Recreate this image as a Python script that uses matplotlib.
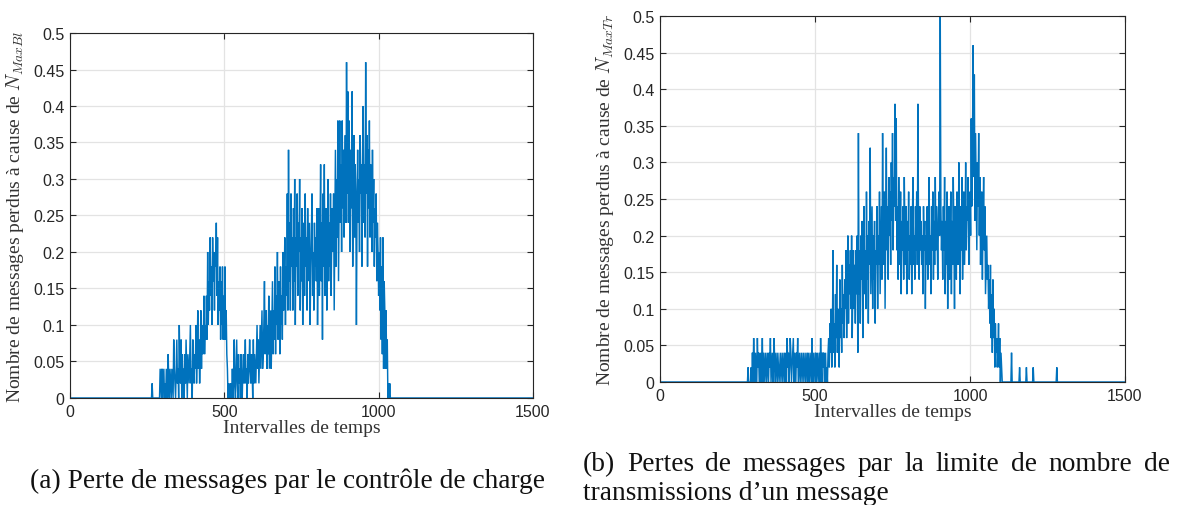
import numpy as np
import matplotlib
matplotlib.use("Agg")
import matplotlib.pyplot as plt

# ---------------- data (values in units of 0.02 = 1 message out of 50) ----------------
UNIT = 0.02
STEP = 2  # interval spacing between listed samples

# (a) pertes dues a N_MaxBl : samples starting at interval 260, every 2 intervals
a_start = 260
a_counts = [
    0,0,0,1,0,0,0,0,0,0,0,0,0,0,0,
    0,2,1,0,2,0,1,2,0,1,0,2,1,0,3,1,0,2,1,0,2,
    1,0,4,2,1,0,2,4,1,2,0,5,2,1,4,0,3,1,2,0,3,1,4,2,0,3,2,1,3,5,1,2,0,4,2,
    1,3,2,5,1,3,6,2,4,1,3,6,2,5,3,4,7,3,5,4,
    7,4,10,5,8,6,11,7,9,5,11,8,10,6,10,9,12,7,11,5,8,6,9,4,8,5,9,4,7,4,
    9,4,6,3,2,0,1,0,
    0,1,0,0,2,0,1,
    4,1,0,2,4,1,0,3,1,2,0,3,1,0,2,3,1,2,4,1,2,0,3,1,2,4,2,1,3,2,0,4,1,3,2,
    1,3,5,2,4,1,3,5,2,4,6,2,3,5,8,3,4,6,2,5,3,7,2,4,6,
    2,5,8,3,6,4,9,3,7,5,10,4,8,6,3,9,5,7,4,10,6,8,11,5,9,
    7,14,6,17,8,12,6,14,9,11,
    6,13,8,15,5,11,9,14,7,12,10,15,6,11,8,13,5,10,12,7,14,9,11,6,13,8,10,12,5,9,11,14,7,10,6,12,9,11,8,13,
    5,10,13,7,11,16,8,12,4,14,9,16,7,11,13,6,10,15,8,12,9,14,7,11,13,
    10,14,6,12,17,9,15,11,19,8,14,19,12,16,10,19,13,17,11,15,18,12,23,14,21,
    12,19,16,10,17,13,21,9,15,18,11,16,14,5,13,17,12,15,10,18,14,16,9,17,20,
    12,16,11,23,14,18,9,17,13,19,11,16,14,10,17,12,15,9,13,11,14,8,12,10,7,
    10,6,11,4,9,3,11,2,8,6,
    2,6,2,4,0,1,0,1,0,0,0,0,0,
]

# (b) pertes dues a N_MaxTr : samples starting at interval 280, every 2 intervals
b_start = 280
b_counts = [
    0,0,1,0,0,0,0,
    1,0,2,0,3,1,0,2,1,0,3,1,2,0,1,2,0,1,3,0,2,1,0,2,
    1,0,2,1,0,2,1,3,0,1,2,0,1,3,1,0,2,1,0,2,1,0,1,2,0,1,2,0,1,2,
    0,2,1,0,3,1,2,0,1,3,2,0,1,2,3,0,2,1,0,2,1,3,0,1,2,0,1,2,0,1,
    2,0,1,2,0,1,2,0,2,1,0,2,1,0,3,1,0,2,1,0,2,0,1,2,0,1,2,0,3,1,0,2,1,2,0,1,2,0,1,0,
    2,3,1,4,2,5,1,3,9,2,4,1,6,3,8,2,5,4,1,7,3,5,2,8,4,6,3,7,5,9,
    3,7,10,4,8,6,9,5,10,3,7,9,5,8,4,9,6,10,2,17,
    6,9,4,10,7,11,3,8,12,6,9,5,13,7,10,4,11,8,16,6,9,12,5,10,7,11,4,9,8,12,
    5,10,8,13,6,9,12,7,17,10,8,13,5,11,16,9,12,7,14,10,13,8,15,11,17,9,14,12,19,11,
    18,9,12,7,14,10,8,13,6,11,9,12,7,14,10,8,12,6,11,9,13,7,10,8,12,6,11,14,8,10,7,12,9,13,8,19,10,7,12,9,11,8,10,6,12,
    9,11,5,10,8,12,7,11,14,8,10,6,12,9,13,7,11,8,14,9,12,10,7,11,13,
    10,25,12,9,11,
    7,12,9,14,6,11,8,13,5,10,12,7,9,13,6,11,8,14,10,5,12,9,7,13,11,8,15,10,6,12,9,14,7,11,13,8,10,15,9,12,11,14,8,10,13,
    10,18,12,16,23,14,21,11,17,13,9,15,12,17,10,
    14,8,12,13,7,11,14,9,12,6,8,10,7,8,5,
    7,4,8,3,6,2,7,3,5,1,4,2,3,1,2,
    4,1,3,0,2,1,0,0,0,0,
]
# isolated late losses in (b)
b_spike_x = [1134, 1160, 1182, 1204, 1280]
b_spike_counts = [2, 1, 1, 1, 1]

x_max = 1500
x_ticks = [0, 500, 1000, 1500]
y_ticks = [0, 0.05, 0.1, 0.15, 0.2, 0.25, 0.3, 0.35, 0.4, 0.45, 0.5]
y_ticklabels = ["0", "0.05", "0.1", "0.15", "0.2", "0.25", "0.3", "0.35", "0.4", "0.45", "0.5"]

xlabel = "Intervalles de temps"
ylabel_a = "Nombre de messages perdus à cause de $N_{MaxBl}$"
ylabel_b = "Nombre de messages perdus à cause de $N_{MaxTr}$"
caption_a = "(a) Perte de messages par le contrôle de charge"
caption_b1 = "(b) Pertes de messages par la limite de nombre de"
caption_b2 = "transmissions d’un message"


def build_series(start, counts, spike_x=(), spike_counts=()):
    xs = np.arange(0, x_max + 1, STEP)
    ys = np.zeros_like(xs, dtype=float)
    i0 = start // STEP
    ys[i0:i0 + len(counts)] = np.array(counts, dtype=float) * UNIT
    for sx, sc in zip(spike_x, spike_counts):
        ys[sx // STEP] = sc * UNIT
    return xs, ys


plt.rcParams["mathtext.fontset"] = "cm"
TICK_FONT = "Liberation Sans"
LABEL_FONT = "Liberation Serif"
DARK = "#262626"
BLUE = "#0072BD"
W, H = 1177, 506

fig = plt.figure(figsize=(W / 100, H / 100), dpi=100)
ax_a = fig.add_axes([0.0595, 0.2115, 0.3933, 0.7213])
ax_b = fig.add_axes([0.5608, 0.2431, 0.3950, 0.7233])

for ax, (start, counts, sx, sc), ylab in [
    (ax_a, (a_start, a_counts, [], []), ylabel_a),
    (ax_b, (b_start, b_counts, b_spike_x, b_spike_counts), ylabel_b),
]:
    xs, ys = build_series(start, counts, sx, sc)
    ax.plot(xs, ys, color=BLUE, lw=1.05, solid_joinstyle="miter")
    ax.set_xlim(0, x_max)
    ax.set_ylim(0, 0.5)
    ax.set_xticks(x_ticks)
    ax.set_yticks(y_ticks)
    ax.set_yticklabels(y_ticklabels)
    ax.grid(True, color="#e3e3e3", lw=0.9)
    ax.set_axisbelow(True)
    ax.tick_params(direction="in", top=True, right=True, length=4, width=0.8,
                   colors=DARK, labelsize=11.5, pad=4)
    for lab in ax.get_xticklabels() + ax.get_yticklabels():
        lab.set_fontfamily(TICK_FONT)
    for sp in ax.spines.values():
        sp.set_color(DARK)
        sp.set_linewidth(0.8)
    ax.set_xlabel(xlabel, fontfamily=LABEL_FONT, fontsize=14, color="#333333", labelpad=0)
    ax.set_ylabel(ylab, fontfamily=LABEL_FONT, fontsize=14, color="#333333", labelpad=5)

CAP_FONT = "Liberation Serif"
CAP_SIZE = 17.5
CAP_COLOR = "#111111"
fig.canvas.draw()
renderer = fig.canvas.get_renderer()

# caption (a), fitted to the reference width
ta = fig.text(287 / W, 1 - 481 / H, caption_a, fontfamily=CAP_FONT, fontsize=CAP_SIZE,
              color=CAP_COLOR, ha="center", va="center")
wa = ta.get_window_extent(renderer=renderer).width
cap_size = CAP_SIZE * 515 / wa
ta.set_fontsize(cap_size)

# justified first line of caption (b)
words = caption_b1.split(" ")
left_px, right_px = 583, 1170
y1 = 1 - 465 / H
txts, widths = [], []
for w in words:
    t = fig.text(0, y1, w, fontfamily=CAP_FONT, fontsize=cap_size, color=CAP_COLOR,
                 ha="left", va="center")
    widths.append(t.get_window_extent(renderer=renderer).width)
    txts.append(t)
gap = (right_px - left_px - sum(widths)) / (len(words) - 1)
xpos = left_px
for t, wdt in zip(txts, widths):
    t.set_x(xpos / W)
    xpos += wdt + gap
fig.text(left_px / W, 1 - 494 / H, caption_b2, fontfamily=CAP_FONT, fontsize=cap_size,
         color=CAP_COLOR, ha="left", va="center")

fig.savefig("out.png", dpi=100)
